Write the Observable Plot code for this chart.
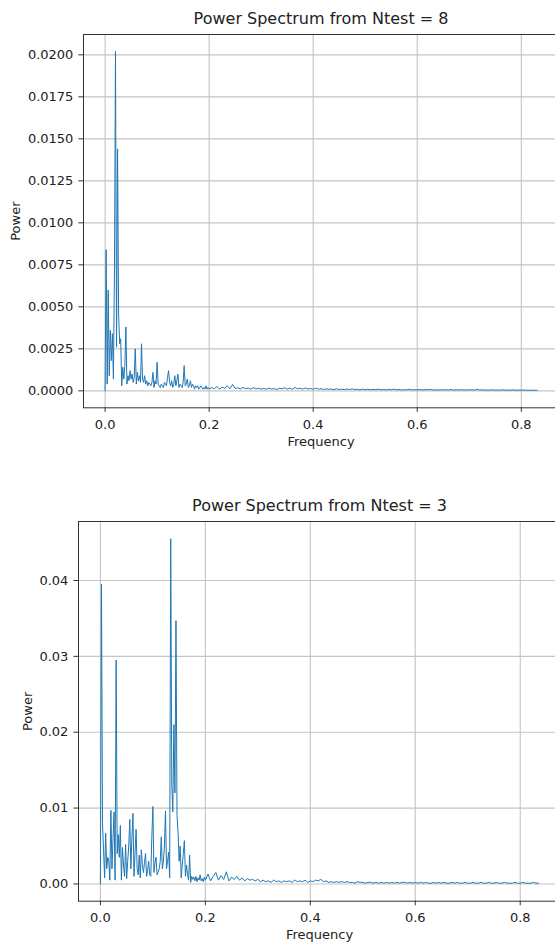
<!DOCTYPE html>
<html>
<head>
<meta charset="utf-8">
<script src="https://cdn.jsdelivr.net/npm/d3@7"></script>
<script src="https://cdn.jsdelivr.net/npm/@observablehq/plot@0.6"></script>
<style>
  html, body { margin: 0; padding: 0; background: #fff; overflow: hidden; }
  #page { position: relative; width: 555px; height: 945px; overflow: hidden; background: #fff; }
  #page svg { position: absolute; left: 0; max-width: none !important; }
</style>
</head>
<body>
<div id="page"></div>
<script>
// Frequency grid: fine bins up to 0.2, coarser bins for the flat tail
const lowStep = 0.002;
const tailStart = 0.205;
const tailStep = 0.005;

// Power spectrum, Ntest = 8 (0 … 0.2)
const ntest8Low = [
  0, 0.0084, 0.0004, 0.0060, 0.0009, 0.0036, 0.0018, 0.0034, 0.0007, 0.0072,
  0.0202, 0.0026, 0.0144, 0.0045, 0.0028, 0.0031, 0.0003, 0.0014, 0.0007, 0.0015,
  0.0038, 0.0004, 0.0009, 0.0006, 0.0012, 0.0007, 0.0010, 0.0005, 0.0008, 0.0025,
  0.0004, 0.0011, 0.0006, 0.0009, 0.0005, 0.0028, 0.0007, 0.0005, 0.0009, 0.0004,
  0.0006, 0.0003, 0.0005, 0.0004, 0.0003, 0.0005, 0.0011, 0.0002, 0.0006, 0.0004,
  0.0017, 0.0004, 0.0003, 0.0002, 0.0004, 0.0003, 0.0002, 0.0005, 0.0004, 0.0003,
  0.0008, 0.0012, 0.0005, 0.0003, 0.0006, 0.0002, 0.0004, 0.0009, 0.0003, 0.0006,
  0.0010, 0.0002, 0.0004, 0.0003, 0.0002, 0.0005, 0.0015, 0.0003, 0.0004, 0.0007,
  0.0002, 0.0003, 0.0006, 0.0002, 0.0004, 0.0003, 0.0001, 0.0003, 0.0002, 0.0003,
  0.0001, 0.0002, 0.0003, 0.0002, 0.0001, 0.0002, 0.0001, 0.0003, 0.0001, 0.0002,
  0.0001
];
// Power spectrum, Ntest = 8 (0.205 … 0.83)
const ntest8Tail = [
  0.00020, 0.00012, 0.00026, 0.00010, 0.00022, 0.00015, 0.00030, 0.00012, 0.00038, 0.00014,
  0.00018, 0.00011, 0.00020, 0.00013, 0.00016, 0.00010, 0.00019, 0.00012, 0.00015, 0.00010,
  0.00014, 0.00009, 0.00016, 0.00011, 0.00013, 0.00008, 0.00015, 0.00012, 0.00018, 0.00010,
  0.00016, 0.00009, 0.00020, 0.00012, 0.00015, 0.00010, 0.00017, 0.00011, 0.00014, 0.00009,
  0.00016, 0.00010, 0.00013, 0.00008, 0.00012, 0.00009, 0.00011, 0.00007, 0.00012, 0.00008,
  0.00010, 0.00007, 0.00011, 0.00008, 0.00012, 0.00007, 0.00009, 0.00006, 0.00010, 0.00007,
  0.00009, 0.00006, 0.00008, 0.00007, 0.00010, 0.00006, 0.00008, 0.00005, 0.00009, 0.00006,
  0.00010, 0.00006, 0.00008, 0.00005, 0.00007, 0.00006, 0.00009, 0.00005, 0.00007, 0.00006,
  0.00008, 0.00005, 0.00007, 0.00006, 0.00009, 0.00005, 0.00006, 0.00004, 0.00007, 0.00005,
  0.00006, 0.00005, 0.00008, 0.00004, 0.00006, 0.00005, 0.00007, 0.00004, 0.00006, 0.00005,
  0.00007, 0.00004, 0.00009, 0.00005, 0.00006, 0.00004, 0.00005, 0.00004, 0.00006, 0.00004,
  0.00005, 0.00004, 0.00006, 0.00003, 0.00005, 0.00004, 0.00006, 0.00003, 0.00005, 0.00004,
  0.00005, 0.00003, 0.00004, 0.00003, 0.00004, 0.00003
];

// Power spectrum, Ntest = 3 (0 … 0.2)
const ntest3Low = [
  0, 0.0395, 0.0080, 0.0045, 0.0008, 0.0067, 0.0020, 0.0035, 0.0030, 0.0005,
  0.0097, 0.0020, 0.0060, 0.0095, 0.0005, 0.0295, 0.0040, 0.0065, 0.0035, 0.0077,
  0.0005, 0.0048, 0.0025, 0.0010, 0.0052, 0.0007, 0.0030, 0.0050, 0.0085, 0.0020,
  0.0060, 0.0093, 0.0010, 0.0040, 0.0072, 0.0020, 0.0012, 0.0038, 0.0008, 0.0045,
  0.0025, 0.0015, 0.0028, 0.0040, 0.0010, 0.0018, 0.0030, 0.0012, 0.0010, 0.0062,
  0.0102, 0.0015, 0.0028, 0.0035, 0.0012, 0.0016, 0.0020, 0.0030, 0.0062, 0.0020,
  0.0030, 0.0050, 0.0096, 0.0020, 0.0030, 0.0042, 0.0008, 0.0455, 0.0130, 0.0095,
  0.0210, 0.0120, 0.0347, 0.0090, 0.0068, 0.0030, 0.0050, 0.0008, 0.0025, 0.0040,
  0.0057, 0.0010, 0.0025, 0.0012, 0.0005, 0.0038, 0.0002, 0.0010, 0.0006, 0.0009,
  0.0004, 0.0010, 0.0003, 0.0008, 0.0005, 0.0012, 0.0004, 0.0007, 0.0003, 0.0009,
  0.0005
];
// Power spectrum, Ntest = 3 (0.205 … 0.835)
const ntest3Tail = [
  0.0013, 0.0004, 0.0010, 0.0015, 0.0005, 0.0011, 0.0006, 0.0016, 0.0004, 0.0009,
  0.0006, 0.0010, 0.0005, 0.0008, 0.0004, 0.0007, 0.0005, 0.0006, 0.0004, 0.0006,
  0.0003, 0.0005, 0.0003, 0.0004, 0.0002, 0.0005, 0.0003, 0.0004, 0.0002, 0.0004,
  0.0003, 0.0004, 0.0002, 0.0005, 0.0003, 0.0004, 0.0003, 0.0005, 0.0002, 0.0004,
  0.0003, 0.0005, 0.0004, 0.0006, 0.0003, 0.0004, 0.0002, 0.0003, 0.0002, 0.0003,
  0.0002, 0.0003, 0.0002, 0.0003, 0.0002, 0.0002, 0.0001, 0.0003, 0.0002, 0.0002,
  0.0001, 0.0002, 0.0002, 0.0001, 0.0002, 0.0001, 0.0002, 0.0001, 0.0002, 0.0001,
  0.0002, 0.0001, 0.0002, 0.0001, 0.0002, 0.0002, 0.0001, 0.0002, 0.0001, 0.0002,
  0.0001, 0.0002, 0.0001, 0.0002, 0.0001, 0.0001, 0.0002, 0.0001, 0.0002, 0.0001,
  0.0002, 0.0001, 0.0001, 0.0002, 0.0001, 0.0002, 0.0001, 0.0001, 0.0002, 0.0001,
  0.0001, 0.0002, 0.0001, 0.0001, 0.0002, 0.0001, 0.0001, 0.0002, 0.0001, 0.0001,
  0.0002, 0.0001, 0.0001, 0.0002, 0.0001, 0.0001, 0.0001, 0.0002, 0.0001, 0.0001,
  0.0002, 0.0001, 0.0001, 0.0001, 0.0002, 0.0001, 0.0001
];

// Axis ticks
const freqTicks = [0, 0.2, 0.4, 0.6, 0.8];
const powerTicks8 = [0, 0.0025, 0.005, 0.0075, 0.01, 0.0125, 0.015, 0.0175, 0.02];
const powerTicks3 = [0, 0.01, 0.02, 0.03, 0.04];

const FONT = "'DejaVu Sans', sans-serif";
const TICK_FONT_SIZE = 13;
const LINE = "#1f77b4";
const GRID = "#c4c4c4";
const INK = "#222";

function spectrum(low, tail) {
  return [
    ...low.map((p, i) => ({freq: i * lowStep, power: p})),
    ...tail.map((p, j) => ({freq: tailStart + j * tailStep, power: p}))
  ];
}

// autoscale with a 5% margin on each side
function padded(values) {
  const [lo, hi] = d3.extent(values);
  const m = (hi - lo) * 0.05;
  return [lo - m, hi + m];
}

function panel({data, title, yTicks, yFormat, width, height, margins, top}) {
  const svg = Plot.plot({
    width, height,
    marginLeft: margins.left, marginRight: margins.right,
    marginTop: margins.top, marginBottom: margins.bottom,
    style: {fontFamily: FONT, background: "transparent", color: INK, maxWidth: "none"},
    x: {domain: padded(data.map(d => d.freq))},
    y: {domain: padded(data.map(d => d.power))},
    marks: [
      Plot.gridX(freqTicks, {stroke: GRID, strokeOpacity: 1, strokeWidth: 1.1}),
      Plot.gridY(yTicks, {stroke: GRID, strokeOpacity: 1, strokeWidth: 1.1}),
      Plot.line(data, {x: "freq", y: "power", stroke: LINE, strokeWidth: 1}),
      Plot.frame({stroke: "#333", strokeWidth: 1}),
      Plot.axisX(freqTicks, {
        tickFormat: d3.format(".1f"), tickSize: 4.6, tickPadding: 7,
        label: null, stroke: "#333", fill: INK
      }),
      Plot.axisY(yTicks, {
        tickFormat: d3.format(yFormat), tickSize: 4.6, tickPadding: 5.5,
        label: null, stroke: "#333", fill: INK
      }),
      Plot.text([title], {
        text: d => d, frameAnchor: "top", textAnchor: "middle",
        lineAnchor: "bottom", dy: -10.5, fontSize: 16, fill: INK
      }),
      Plot.text(["Frequency"], {
        text: d => d, frameAnchor: "bottom", textAnchor: "middle",
        lineAnchor: "bottom", dy: 38, fontSize: 13, fill: INK
      }),
      Plot.text(["Power"], {
        text: d => d, frameAnchor: "left", textAnchor: "middle",
        lineAnchor: "bottom", rotate: -90, dx: -margins.ylabel, fontSize: 13, fill: INK
      })
    ]
  });
  // tick labels are the numeric texts drawn by the axis marks
  svg.querySelectorAll("text").forEach((t) => {
    if (/^-?\d+\.\d+$/.test(t.textContent.trim())) {
      t.setAttribute("font-size", TICK_FONT_SIZE);
      t.style.fontSize = TICK_FONT_SIZE + "px";
    }
  });
  svg.style.top = top + "px";
  svg.style.maxWidth = "none";
  svg.style.height = height + "px";
  document.getElementById("page").appendChild(svg);
}

panel({
  data: spectrum(ntest8Low, ntest8Tail),
  title: "Power Spectrum from Ntest = 8",
  yTicks: powerTicks8, yFormat: ".4f",
  width: 560, height: 460, top: 0,
  margins: {left: 83, right: 2, top: 34, bottom: 52.7, ylabel: 63.5}
});

panel({
  data: spectrum(ntest3Low, ntest3Tail),
  title: "Power Spectrum from Ntest = 3",
  yTicks: powerTicks3, yFormat: ".2f",
  width: 562, height: 465, top: 480,
  margins: {left: 78, right: 2, top: 41, bottom: 44.3, ylabel: 46.5}
});
</script>
</body>
</html>
